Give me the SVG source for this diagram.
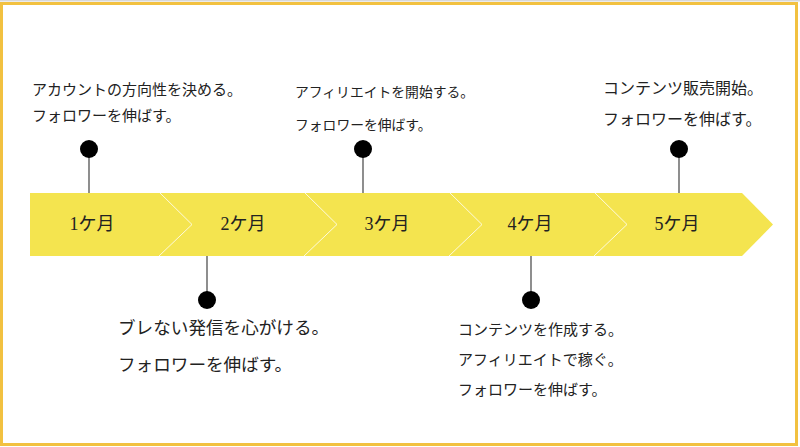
<svg xmlns="http://www.w3.org/2000/svg" width="800" height="447" viewBox="0 0 800 447">
<style>
.t{font-family:"Noto Sans CJK JP","Noto Sans",sans-serif;fill:#222}
.m{font-family:"Liberation Serif","Noto Sans CJK JP",serif;font-size:18px;fill:#222;text-anchor:middle}
.c{stroke:#444;stroke-width:1.2;fill:none}
.sep{stroke:#fff;stroke-width:1;fill:none;opacity:0.8}
</style>
<rect x="0" y="0" width="800" height="447" fill="#fff"/>
<rect x="0" y="0" width="800" height="1.5" fill="#d8d8d8"/>
<rect x="1.5" y="3.5" width="795" height="441" fill="none" stroke="#F2C140" stroke-width="3"/>
<g id="band">
<polygon points="30,193 742,193 773,224.5 742,256 30,256" fill="#F4E44F"/>
<polyline class="sep" points="160,193 192,224.5 159,256"/>
<polyline class="sep" points="305,193 337,224.5 304,256"/>
<polyline class="sep" points="450,193 482,224.5 449,256"/>
<polyline class="sep" points="595,193 627,224.5 594,256"/>
</g>
<g id="connectors">
<line class="c" x1="89" y1="149" x2="89" y2="193"/>
<line class="c" x1="363" y1="149" x2="363" y2="193"/>
<line class="c" x1="679" y1="149" x2="679" y2="193"/>
<line class="c" x1="207" y1="256" x2="207" y2="300"/>
<line class="c" x1="531" y1="256" x2="531" y2="300"/>
</g>
<g id="m1"><text class="m" x="92" y="230">1ケ月</text></g>
<g id="m2"><text class="m" x="243" y="230">2ケ月</text></g>
<g id="m3"><text class="m" x="387" y="230">3ケ月</text></g>
<g id="m4"><text class="m" x="530" y="230">4ケ月</text></g>
<g id="m5"><text class="m" x="677" y="230">5ケ月</text></g>
<g id="e1">
<circle cx="89" cy="149" r="9" fill="#000"/>
<text class="t" x="32" y="95" font-size="15">アカウントの方向性を決める。</text>
<text class="t" x="32" y="121" font-size="15">フォロワーを伸ばす。</text>
</g>
<g id="e2">
<circle cx="207" cy="300" r="9" fill="#000"/>
<text class="t" x="118" y="334" font-size="17.6">ブレない発信を心がける。</text>
<text class="t" x="118" y="371" font-size="17.6">フォロワーを伸ばす。</text>
</g>
<g id="e3">
<circle cx="363" cy="149" r="9" fill="#000"/>
<text class="t" x="295" y="97" font-size="13.8">アフィリエイトを開始する。</text>
<text class="t" x="295" y="130" font-size="13.8">フォロワーを伸ばす。</text>
</g>
<g id="e4">
<circle cx="531" cy="300" r="9" fill="#000"/>
<text class="t" x="458" y="335" font-size="15">コンテンツを作成する。</text>
<text class="t" x="458" y="365" font-size="15">アフィリエイトで稼ぐ。</text>
<text class="t" x="458" y="395" font-size="15">フォロワーを伸ばす。</text>
</g>
<g id="e5">
<circle cx="679" cy="149" r="9" fill="#000"/>
<text class="t" x="603" y="94" font-size="16">コンテンツ販売開始。</text>
<text class="t" x="603" y="125" font-size="16">フォロワーを伸ばす。</text>
</g>
</svg>
